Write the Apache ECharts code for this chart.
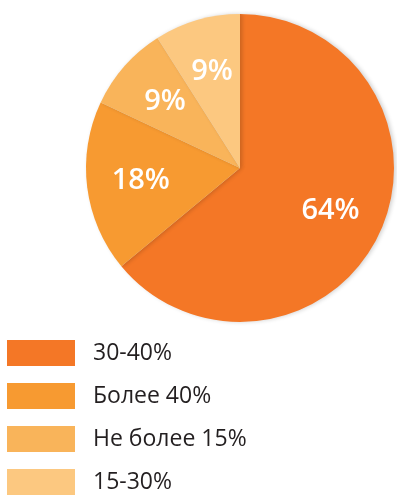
<!DOCTYPE html>
<html>
<head>
<meta charset="utf-8">
<script src="https://cdn.jsdelivr.net/npm/echarts@6/dist/echarts.min.js"></script>
<style>
  html, body { margin: 0; padding: 0; background: #ffffff; }
  #chart { width: 397px; height: 497px; }
</style>
</head>
<body>
<div id="chart"></div>
<script>
// Shares of respondents by group
const categories = ['30-40%', 'Более 40%', 'Не более 15%', '15-30%'];
const shares = [64, 18, 9, 9];
const sliceColors = ['#F47726', '#F79A31', '#F9B45A', '#FCC880'];

const pieData = categories.map((name, i) => ({
  name: name,
  value: shares[i],
  itemStyle: { color: sliceColors[i] }
}));

const chart = echarts.init(document.getElementById('chart'), null, { renderer: 'canvas' });

chart.setOption({
  animation: false,
  color: sliceColors,
  legend: {
    orient: 'vertical',
    left: 7,
    top: 340,
    height: 200,
    padding: 0,
    itemWidth: 68,
    itemHeight: 26,
    itemGap: 17,
    icon: 'rect',
    selectedMode: false,
    textStyle: {
      fontFamily: 'Open Sans',
      fontSize: 23,
      color: '#231F20',
      padding: [6, 0, 0, 13]
    },
    data: categories
  },
  series: [
    {
      // the slices themselves
      type: 'pie',
      center: [240, 168],
      radius: [0, 154],
      startAngle: 90,
      clockwise: true,
      silent: true,
      label: { show: false },
      labelLine: { show: false },
      itemStyle: {
        borderWidth: 0,
        shadowBlur: 4,
        shadowOffsetX: 2,
        shadowColor: 'rgba(0,0,0,0.18)'
      },
      data: pieData
    },
    {
      // transparent ring that carries the percentage labels
      type: 'pie',
      center: [240, 168],
      radius: [40, 154],
      startAngle: 90,
      clockwise: true,
      silent: true,
      legendHoverLink: false,
      itemStyle: { color: 'rgba(0,0,0,0)', borderWidth: 0 },
      label: {
        show: true,
        position: 'inside',
        formatter: '{c}%',
        color: '#ffffff',
        fontFamily: 'Open Sans',
        fontWeight: 600,
        fontSize: 29
      },
      labelLine: { show: false },
      data: categories.map((name, i) => ({ name: name + ' ', value: shares[i] }))
    }
  ]
});
</script>
</body>
</html>
